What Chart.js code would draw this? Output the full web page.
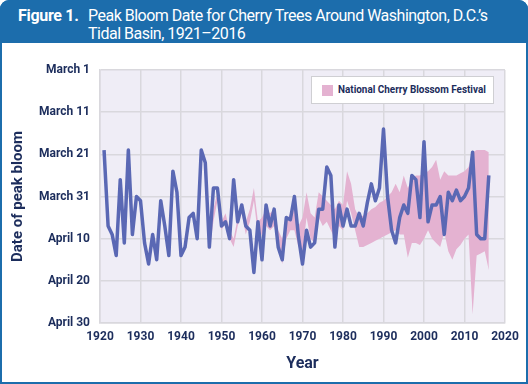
<!DOCTYPE html>
<html>
<head>
<meta charset="utf-8">
<title>Peak Bloom Date for Cherry Trees</title>
<script src="https://cdn.jsdelivr.net/npm/chart.js@4.4.1/dist/chart.umd.min.js"></script>
<style>
  html, body { margin: 0; padding: 0; background: #fff; }
  body { position: relative; width: 528px; height: 384px; overflow: hidden; font-family: Roboto, "Noto Sans", sans-serif; }
  #frame {
    position: absolute; left: 0; top: 0; width: 528px; height: 384px;
    box-sizing: border-box; border: 2px solid #1c6dac; border-radius: 9px 9px 0 0;
  }
  #header {
    position: absolute; left: 0; top: 0; width: 528px; height: 43px;
    background: #1c6dac; border-radius: 9px 9px 0 0; color: #fff;
  }
  #fig-num { position: absolute; left: 18px; top: 7px; font-size: 16px; line-height: 18px; font-weight: bold; letter-spacing: -0.3px; }
  #fig-title { position: absolute; left: 88px; top: 7px; font-size: 16px; line-height: 18px; letter-spacing: -0.5px; }
  #chart-box { position: absolute; left: 0; top: 0; width: 528px; height: 384px; }
  #legend {
    position: absolute; left: 311px; top: 76px; width: 183px; height: 28px;
    box-sizing: border-box; background: #fff; border: 1.5px solid #cfcfd3;
  }
  #legend .swatch { position: absolute; left: 10px; top: 8px; width: 11px; height: 11px; background: #e4b2d1; }
  #legend .label {
    position: absolute; left: 26px; top: 6px; font-size: 11px; line-height: 14px; font-weight: bold;
    color: #1c2d5c; white-space: nowrap; transform: scaleX(0.9); transform-origin: left center;
  }
</style>
</head>
<body>
<div id="frame"></div>
<div id="header">
  <div id="fig-num">Figure 1.</div>
  <div id="fig-title">Peak Bloom Date for Cherry Trees Around Washington, D.C.’s<br>Tidal Basin, 1921–2016</div>
</div>
<div id="chart-box"><canvas id="bloom-chart" width="528" height="384"></canvas></div>
<div id="legend"><div class="swatch"></div><div class="label">National Cherry Blossom Festival</div></div>

<script>
// Days are counted from March 1 (0 = March 1, 30 = March 31, 60 = April 30)

const bloomYears = [
  1921, 1922, 1923, 1924, 1925, 1926, 1927, 1928, 1929, 1930,
  1931, 1932, 1933, 1934, 1935, 1936, 1937, 1938, 1939, 1940,
  1941, 1942, 1943, 1944, 1945, 1946, 1947, 1948, 1949, 1950,
  1951, 1952, 1953, 1954, 1955, 1956, 1957, 1958, 1959, 1960,
  1961, 1962, 1963, 1964, 1965, 1966, 1967, 1968, 1969, 1970,
  1971, 1972, 1973, 1974, 1975, 1976, 1977, 1978, 1979, 1980,
  1981, 1982, 1983, 1984, 1985, 1986, 1987, 1988, 1989, 1990,
  1991, 1992, 1993, 1994, 1995, 1996, 1997, 1998, 1999, 2000,
  2001, 2002, 2003, 2004, 2005, 2006, 2007, 2008, 2009, 2010,
  2011, 2012, 2013, 2014, 2015, 2016
];

// Peak bloom date
const peakBloom = [
  19, 37, 39, 44, 26, 41, 19, 39, 30, 31,
  41, 46, 39, 45, 31, 37, 44, 24, 29, 44,
  42, 35, 34, 40, 19, 22, 42, 28, 28, 37,
  36, 40, 26, 36, 32, 37, 38, 48, 36, 45,
  32, 37, 33, 42, 45, 35, 35.5, 30, 39.5, 46,
  38, 42, 41, 33, 33, 23, 25, 42, 32, 37,
  33, 37, 37, 34, 37, 31.5, 27, 31, 28, 14,
  30, 38, 41, 35, 32, 34, 25, 26, 35, 17,
  36, 32, 32, 30, 39, 29, 31, 28.5, 31, 30,
  28, 19.5, 39, 40, 40, 25
];

// National Cherry Blossom Festival, first and last day (null = no festival drawn)
const festivalStart = [
  null, null, null, null, null, null, null, null, null, null,
  null, null, null, 45, null, null, null, null, null, null,
  null, null, null, null, null, null, 41, 33, 29, 36,
  34, 38, 40, 35, 32, 36, 33, 28, 36, 35,
  33, 34, 33, 38, 40, 36, 34, 33, 37, 35,
  29, 34, 35, 29, 30, 31, 32, 33, 31, 32,
  24, 27, 33, 35, 34.5, 34, 33, 32.5, 31.5, 31,
  30, 29, 27, 29, 25, 28, 26, 25, 25, 24.5,
  24, 23, 21.3, 26, 24, 25, 25, 25, 24.5, 24,
  23, 19.5, 19, 19, 19, 19.5
];
const festivalEnd = [
  null, null, null, null, null, null, null, null, null, null,
  null, null, null, 51, null, null, null, null, null, null,
  null, null, null, null, null, null, 43, 36, 31, 38,
  36, 40, 42, 37, 34, 39, 36, 31, 39, 39,
  37, 38, 37, 42, 46, 40, 38, 38, 42, 43,
  35, 40, 41, 35, 37, 36, 38, 40, 37, 38,
  31, 34, 38, 42, 42, 41.5, 41, 40.5, 40, 39.5,
  39, 38.5, 38, 39, 39, 44.5, 41, 41, 41.5, 40,
  38, 40, 41, 42, 38.5, 43, 45, 42.5, 41.5, 40,
  39, 58, 44, 43.5, 43, 47.5
];

const yearTicks = [1920, 1930, 1940, 1950, 1960, 1970, 1980, 1990, 2000, 2010, 2020];
const dateTickDays = [0, 10, 20, 30, 40, 50, 60];
const dateTickLabels = ['March 1', 'March 11', 'March 21', 'March 31', 'April 10', 'April 20', 'April 30'];

const navy = '#1c2d5c';
const gridColor = '#d9d8dd';

function toPoints(values) {
  return bloomYears.map((year, i) => ({ x: year, y: values[i] }));
}

// paints the lavender plot area
const plotBackground = {
  id: 'plotBackground',
  beforeDraw(chart) {
    const { ctx, chartArea } = chart;
    ctx.save();
    ctx.fillStyle = '#efedf6';
    ctx.fillRect(chartArea.left, chartArea.top, chartArea.right - chartArea.left, chartArea.bottom - chartArea.top);
    ctx.restore();
  }
};

const tickFont = { family: 'Roboto', weight: 'bold', size: 12 };

new Chart(document.getElementById('bloom-chart'), {
  type: 'line',
  data: {
    datasets: [
      {
        label: 'Peak bloom date',
        data: toPoints(peakBloom),
        borderColor: '#5a68b4',
        borderWidth: 3.5,
        borderJoinStyle: 'round',
        pointRadius: 0,
        fill: false,
        tension: 0,
        order: 0
      },
      {
        label: 'Festival start',
        data: toPoints(festivalStart),
        borderWidth: 0,
        borderColor: 'rgba(0,0,0,0)',
        pointRadius: 0,
        fill: false,
        order: 1
      },
      {
        label: 'National Cherry Blossom Festival',
        data: toPoints(festivalEnd),
        borderWidth: 0,
        borderColor: 'rgba(0,0,0,0)',
        backgroundColor: '#e4b2d1',
        pointRadius: 0,
        fill: '-1',
        order: 2
      }
    ]
  },
  options: {
    responsive: false,
    animation: false,
    layout: { padding: { top: 70, right: 23, bottom: 0, left: 0 } },
    plugins: {
      legend: { display: false },
      tooltip: { enabled: false }
    },
    scales: {
      x: {
        type: 'linear',
        min: 1920,
        max: 2020,
        afterBuildTicks: scale => { scale.ticks = yearTicks.map(v => ({ value: v })); },
        afterFit: scale => { scale.height = 61; },
        grid: { color: gridColor, lineWidth: 1.5, drawTicks: false },
        border: { color: gridColor, width: 1.5 },
        ticks: {
          padding: 7,
          color: navy,
          font: tickFont,
          maxRotation: 0,
          autoSkip: false,
          callback: value => String(value)
        },
        title: {
          display: true,
          text: 'Year',
          color: navy,
          font: { family: 'Roboto', weight: 'bold', size: 16 },
          padding: { top: 0, bottom: 10 }
        }
      },
      y: {
        type: 'linear',
        min: 0,
        max: 60,
        reverse: true,
        afterBuildTicks: scale => { scale.ticks = dateTickDays.map(v => ({ value: v })); },
        afterFit: scale => { scale.width = 100; },
        grid: { color: gridColor, lineWidth: 1.5, drawTicks: false },
        border: { color: gridColor, width: 1.5 },
        ticks: {
          padding: 10,
          color: navy,
          font: tickFont,
          autoSkip: false,
          callback: value => dateTickLabels[dateTickDays.indexOf(value)]
        },
        title: {
          display: true,
          text: 'Date of peak bloom',
          color: navy,
          font: { family: 'Roboto', weight: 'bold', size: 15 },
          padding: { top: 9, bottom: 0 }
        }
      }
    }
  },
  plugins: [plotBackground]
});
</script>
</body>
</html>
